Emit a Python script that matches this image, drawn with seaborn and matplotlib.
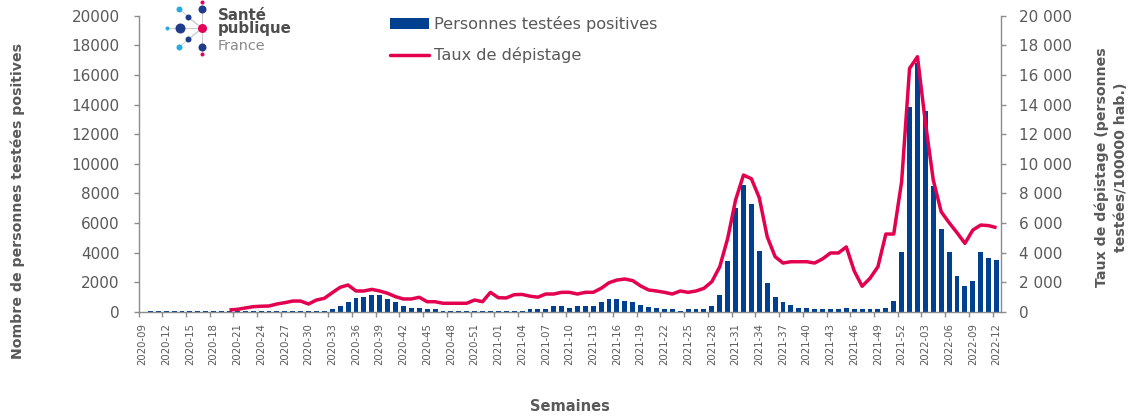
import numpy as np
import pandas as pd
import matplotlib
matplotlib.use("Agg")
import matplotlib.pyplot as plt
import seaborn as sns
from matplotlib.patches import Patch
from matplotlib.lines import Line2D
from matplotlib.ticker import FuncFormatter

# ---------------- data ----------------
weeks = ([f"2020-{w:02d}" for w in range(9, 54)]
         + [f"2021-{w:02d}" for w in range(1, 53)]
         + [f"2022-{w:02d}" for w in range(1, 13)])

positives = [
    0, 20, 30, 30, 40, 30, 40, 40, 30, 40,
    40, 40, 40, 40, 40, 40, 40, 40, 40, 40,
    40, 50, 60, 80,
    170, 360, 650, 900, 1000, 1120, 1130, 860, 635, 360, 250, 230, 160, 160,
    60, 50, 40, 40, 40, 40, 40, 40, 40, 40, 60,
    180, 180, 180, 385, 385, 270, 385, 385, 385, 635, 838, 838, 723, 635, 473, 340, 230, 160, 160,
    40, 160, 160, 170, 385, 1110, 3430,
    7000, 8560, 7260, 4100, 1960, 1014, 635, 453, 240, 240,
    160, 160, 160, 160, 230, 160, 160, 160, 160, 230,
    720, 4060, 13820, 16800, 13570, 8520, 5570, 4060, 2410, 1760, 2100, 4060, 3610, 3500,
]

taux = [np.nan] * 11 + [
    120, 160, 250, 340, 370, 385, 520, 610, 720, 720,
    520, 790, 905, 1285, 1650, 1805, 1400, 1400, 1510, 1400,
    1245, 1015, 860, 860, 975, 675, 675, 570, 570, 570,
    570, 790, 675, 1310, 945, 930, 1150, 1170, 1050, 980,
    1195, 1195, 1310, 1310, 1195, 1310, 1310, 1580, 1960, 2140,
    2210, 2100, 1740, 1470, 1400, 1310, 1195, 1400, 1310, 1400,
    1580, 2030, 3040, 4950, 7550, 9240, 8990, 7700, 5070, 3720,
    3290, 3380, 3380, 3380, 3290, 3570, 3970, 3970, 4380, 2760,
    1720, 2260, 3040, 5250, 5250, 8800, 16450, 17240, 12800, 8900,
    6760, 6020, 5340, 4620, 5520, 5860, 5820, 5680,
]

yticks = list(range(0, 20001, 2000))
label_weeks = weeks[::3]

legend_labels = ["Personnes testées positives", "Taux de dépistage"]

# ---------------- style ----------------
sns.set_style("white")
plt.rcParams["font.family"] = ["DejaVu Sans"]

BLUE = "#00408F"
PINK = "#E3004F"
TXT = "#595959"
AXC = "#8C8C8C"

W, H = 1138, 419
fig = plt.figure(figsize=(W / 100, H / 100), dpi=100)
ax = fig.add_axes([138.5 / W, 107.3 / H, 862.0 / W, 295.8 / H])

df = pd.DataFrame({"week": weeks, "positives": positives,
                   "pos": np.arange(len(weeks)), "taux": taux})

sns.barplot(data=df, x="week", y="positives", order=weeks, color=BLUE,
            saturation=1, width=0.62, linewidth=0, ax=ax)

ax2 = ax.twinx()
dl = df.dropna(subset=["taux"])
sns.lineplot(data=dl, x="pos", y="taux", color=PINK, lw=2.5, ax=ax2,
             solid_joinstyle="round", solid_capstyle="butt")

for a in (ax, ax2):
    a.set_xlim(-0.5, len(weeks) - 0.5)
    a.set_ylim(0, 20000)
    a.set_yticks(yticks)
    a.set_xlabel("")
    a.set_ylabel("")
    for s in a.spines.values():
        s.set_color(AXC)
        s.set_linewidth(1.0)
    a.spines["top"].set_visible(False)

ax.spines["right"].set_visible(False)
ax2.spines["left"].set_visible(False)
ax2.spines["bottom"].set_visible(False)

ax.yaxis.set_major_formatter(FuncFormatter(lambda v, p: f"{int(v)}"))
ax2.yaxis.set_major_formatter(FuncFormatter(lambda v, p: f"{int(v):,}".replace(",", " ")))

ax.tick_params(axis="y", which="major", direction="out", length=3.6, width=1,
               color=AXC, labelcolor=TXT, labelsize=11, pad=10, left=True)
ax2.tick_params(axis="y", which="major", direction="out", length=3.6, width=1,
                color=AXC, labelcolor=TXT, labelsize=11, pad=10, right=True)

# x: tick marks between category groups, labels on categories
ax.set_xticks(np.arange(-0.5, len(weeks) - 0.5, 3))
ax.set_xticklabels([])
ax.set_xticks(np.arange(0, len(weeks), 3), minor=True)
ax.set_xticklabels(label_weeks, minor=True, rotation=90)
ax.tick_params(axis="x", which="major", direction="out", length=3.6, width=1,
               color=AXC, bottom=True)
ax.tick_params(axis="x", which="minor", length=0, labelcolor=TXT,
               labelsize=7.3, pad=8, bottom=True)
ax.grid(False)
ax2.grid(False)

# axis titles
fig.text(18 / W, 1 - 201 / H, "Nombre de personnes testées positives",
         rotation=90, ha="center", va="center", fontsize=10.2,
         fontweight="bold", color=TXT)
fig.text(1111 / W, 1 - 167 / H, "Taux de dépistage (personnes\ntestées/100000 hab.)",
         rotation=90, ha="center", va="center", multialignment="center",
         fontsize=10.2, fontweight="bold", color=TXT, linespacing=1.45)
fig.text(570 / W, 1 - 406 / H, "Semaines", ha="center", va="center",
         fontsize=10.5, fontweight="bold", color=TXT)

# legend
handles = [Patch(facecolor=BLUE, edgecolor="none"),
           Line2D([0], [0], color=PINK, lw=2.5)]
fig.legend(handles, legend_labels, loc="upper left",
           bbox_to_anchor=(390 / W, 1 - 16 / H), frameon=False,
           fontsize=11.6, handlelength=2.4, handleheight=0.66,
           handletextpad=0.3, labelspacing=0.95, borderpad=0,
           borderaxespad=0, labelcolor=TXT)

# logo (decoration)
ov = fig.add_axes([0, 0, 1, 1], facecolor="none")
ov.set_xlim(0, W)
ov.set_ylim(H, 0)
ov.axis("off")
cx, cy = 202.3, 28.3
dots = [
    (179.3, 9.3, 3, "#29ABE2"), (202.3, 9.3, 4, "#1F3C8C"), (202.3, 1.7, 2, "#E6005A"),
    (187.7, 17.3, 3, "#1F3C8C"), (166.7, 28.3, 2, "#29ABE2"), (180.0, 28.3, 5, "#1F3C8C"),
    (202.3, 28.3, 4.5, "#E6005A"), (187.7, 39.3, 3, "#1F3C8C"), (179.3, 46.7, 3, "#29ABE2"),
    (202.3, 46.7, 4, "#1F3C8C"), (202.3, 54.3, 2, "#E6005A"),
]
for (dx, dy, r, c) in dots:
    ov.plot([cx, dx], [cy, dy], color="#C8C8C8", lw=0.6, zorder=1)
for (dx, dy, r, c) in dots:
    ov.scatter([dx], [dy], s=(1.44 * r) ** 2, color=c, zorder=2, linewidths=0)
ov.text(218, 35.5, "Santé\npublique", fontsize=10.8, fontweight="bold",
        color="#4D4D4D", va="bottom", ha="left", linespacing=0.8)
ov.text(218, 50, "France", fontsize=10.4, color="#8A8A8A", va="baseline")

fig.savefig("out.png", dpi=100)
